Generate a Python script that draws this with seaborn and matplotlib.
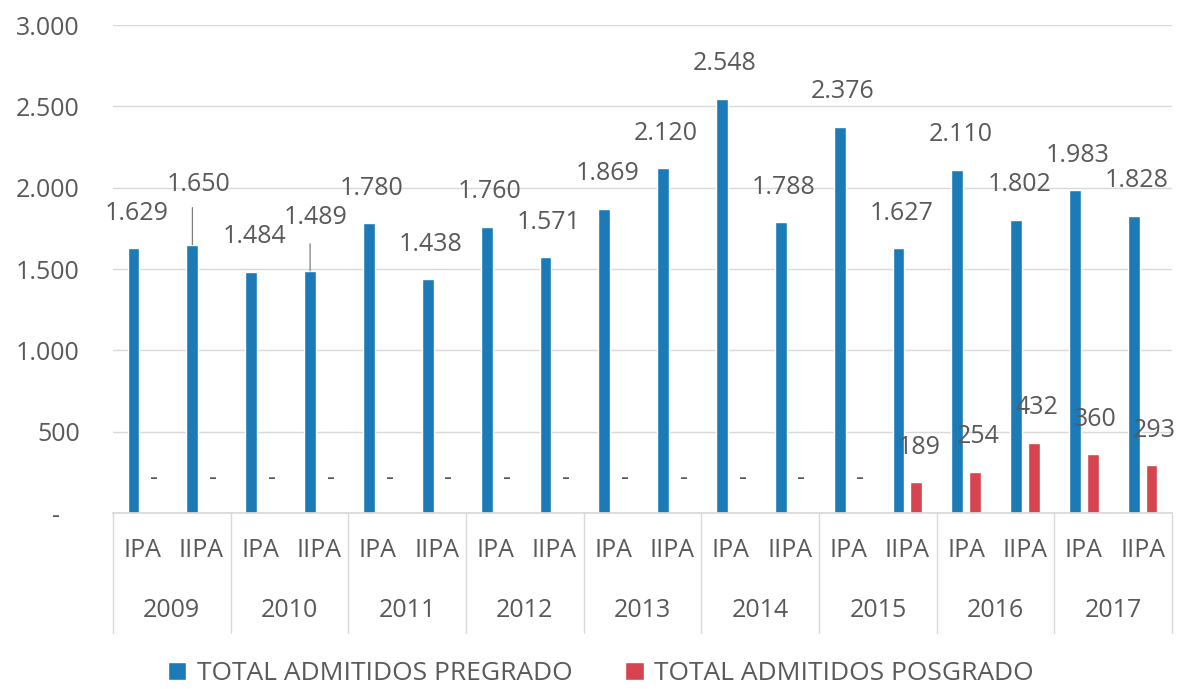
import matplotlib
matplotlib.use("Agg")
import matplotlib.pyplot as plt
import matplotlib.transforms as mtransforms
import seaborn as sns
import pandas as pd

# ── data ─────────────────────────────────────────────────────
years = ["2009", "2010", "2011", "2012", "2013", "2014", "2015", "2016", "2017"]
periods = ["IPA", "IIPA"]
series = ["TOTAL ADMITIDOS PREGRADO", "TOTAL ADMITIDOS POSGRADO"]
pregrado = [1629, 1650, 1484, 1489, 1780, 1438, 1760, 1571, 1869,
            2120, 2548, 1788, 2376, 1627, 2110, 1802, 1983, 1828]
posgrado = [0, 0, 0, 0, 0, 0, 0, 0, 0,
            0, 0, 0, 0, 189, 254, 432, 360, 293]
y_ticks = [0, 500, 1000, 1500, 2000, 2500, 3000]

colors = ["#1C7BB7", "#D5444F"]
gray = "#595959"
light = "#D9D9D9"

keys = [f"{y} {p}" for y in years for p in periods]
df = pd.DataFrame({
    "periodo": keys * 2,
    "serie": [series[0]] * len(keys) + [series[1]] * len(keys),
    "admitidos": pregrado + posgrado,
})


def fmt(v):
    return "-" if v == 0 else f"{v:,.0f}".replace(",", ".")


sns.set_theme(style="white")
plt.rcParams["font.family"] = ["Open Sans", "DejaVu Sans"]
FS = 18

fig = plt.figure(figsize=(11.78, 6.89), dpi=100)
ax = fig.add_axes([0.0959, 0.2554, 0.8991, 0.7083])
sns.barplot(data=df, x="periodo", y="admitidos", hue="serie", order=keys,
            hue_order=series, palette=colors, saturation=1, width=0.6, gap=0.33,
            errorbar=None, ax=ax)

# data labels (two pregrado labels were moved up with a leader line)
raised = {1: (6, 60, 37), 3: (6, 53, 27)}   # index: (dx px, dy px, line px)
px = 72 / fig.dpi
for ci, cont in enumerate(ax.containers):
    for i, bar in enumerate(cont):
        x = bar.get_x() + bar.get_width() / 2
        h = bar.get_height()
        dx, dy = 3, 35
        if ci == 0 and i in raised:
            dx, dy, ln = raised[i]
            ax.annotate("", xy=(x, h), xytext=(0, ln * px), textcoords="offset points",
                        arrowprops=dict(arrowstyle="-", color="#7F7F7F", lw=0.9,
                                        shrinkA=0, shrinkB=0))
        ax.annotate(fmt(h), xy=(x, h), xytext=(dx * px, dy * px), textcoords="offset points",
                    ha="center", va="center", fontsize=FS, color=gray, annotation_clip=False)

# axes styling
ax.set_ylim(0, 3000)
ax.set_xlim(-0.5, len(keys) - 0.5)
ax.set_yticks(y_ticks)
ax.set_yticklabels([fmt(v) + ("   " if v == 0 else "") for v in y_ticks])
ax.set_xticks(range(len(keys)))
ax.set_xticklabels(periods * len(years))
ax.tick_params(axis="y", length=0, pad=24, labelsize=FS, labelcolor=gray)
ax.tick_params(axis="x", length=0, pad=18, labelsize=FS, labelcolor=gray)
ax.yaxis.grid(True, color=light, lw=1)
ax.xaxis.grid(False)
ax.set_axisbelow(True)
for s in ["left", "right", "top"]:
    ax.spines[s].set_visible(False)
ax.spines["bottom"].set_color(light)
ax.set_xlabel("")
ax.set_ylabel("")

# year row and separators
blend = mtransforms.blended_transform_factory(ax.transData, ax.transAxes)
for k, y in enumerate(years):
    ax.text(2 * k + 0.5, -0.199, y, transform=blend, ha="center", va="center",
            fontsize=FS, color=gray)
for b in range(0, len(keys) + 1, 2):
    ax.plot([b - 0.5, b - 0.5], [0, -0.245], transform=blend, color=light,
            lw=1, clip_on=False)

# legend
handles, labels = ax.get_legend_handles_labels()
ax.get_legend().remove()
fig.legend(handles, labels, loc="center", bbox_to_anchor=(0.510, 0.022), ncol=2,
           frameon=False, fontsize=19, labelcolor=gray, handlelength=0.7,
           handleheight=0.7, handletextpad=0.4, columnspacing=2.0,
           borderpad=0.1)

fig.savefig("out.png", dpi=100)
